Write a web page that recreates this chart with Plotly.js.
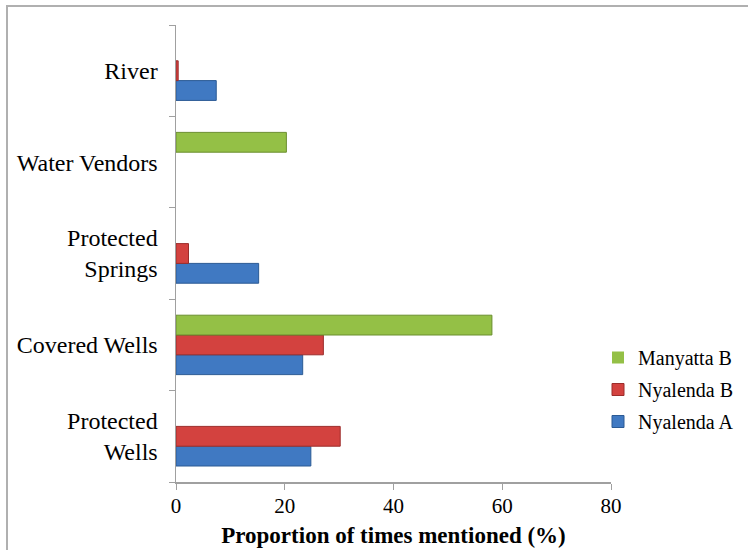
<!DOCTYPE html>
<html>
<head>
<meta charset="utf-8">
<script src="https://cdn.plot.ly/plotly-3.0.1.min.js"></script>
<style>
  html, body { margin: 0; padding: 0; background: #fff; }
  #wrap { position: relative; width: 748px; height: 550px; }
  #chart { width: 748px; height: 550px; }
  #frame { position: absolute; left: 6px; top: 5px; right: 0; bottom: 0;
           border-left: 2px solid #b0b0b0; border-top: 2px solid #b0b0b0; pointer-events: none; }
</style>
</head>
<body>
<div id="wrap">
  <div id="chart"></div>
  <div id="frame"></div>
</div>
<script>
const categories = ["Protected<br>Wells", "Covered Wells", "Protected<br>Springs", "Water Vendors", "River"];
const nyalendaA = [24.8, 23.3, 15.2, 0, 7.4];
const nyalendaB = [30.2, 27.1, 2.3, 0, 0.4];
const manyattaB = [0, 58.1, 0, 20.3, 0];
const xTicks = [0, 20, 40, 60, 80];

const serif = "Liberation Serif, Times New Roman, serif";

function series(name, vals, fill, edge, rank) {
  return {
    type: "bar", orientation: "h", name: name, legendgroup: name, legendrank: rank,
    y: categories, x: vals,
    marker: { color: fill, line: { color: edge, width: vals.map(v => v > 0 ? 1 : 0) } },
    hoverinfo: "x+name"
  };
}

const data = [
  series("Nyalenda A", nyalendaA, "#4079c2", "#2b5a94", 3),
  series("Nyalenda B", nyalendaB, "#d3423f", "#9c2d2b", 2),
  series("Manyatta B", manyattaB, "#94c046", "#6a8f2e", 1)
];

const layout = {
  width: 748, height: 550,
  margin: { l: 176, r: 137, t: 25, b: 68, autoexpand: false },
  paper_bgcolor: "#ffffff", plot_bgcolor: "#ffffff",
  barmode: "group", bargap: 0.35, bargroupgap: 0,
  font: { family: serif, color: "#000", size: 20 },
  xaxis: {
    range: [0, 80], tickvals: xTicks, ticktext: xTicks.map(String),
    showgrid: false, zeroline: false, automargin: false,
    showline: true, linecolor: "#a0a0a0", linewidth: 1.5,
    ticks: "outside", ticklen: 6, tickcolor: "#a0a0a0",
    tickfont: { family: serif, size: 21, color: "#000" },
    ticklabelstandoff: -2,
    title: { text: "<b>Proportion of times mentioned (%)</b>", font: { family: serif, size: 23, color: "#000" }, standoff: 10 }
  },
  yaxis: {
    type: "category", categoryorder: "array", categoryarray: categories,
    showgrid: false, zeroline: false, automargin: false,
    showline: true, linecolor: "#a0a0a0", linewidth: 1.5,
    ticks: "outside", ticklen: 6, tickcolor: "#a0a0a0", tickson: "boundaries",
    tickfont: { family: serif, size: 24, color: "#000" },
    ticklabelstandoff: 12
  },
  legend: {
    xref: "container", yref: "container",
    x: 598 / 748, xanchor: "left", y: 1 - 338 / 550, yanchor: "top",
    traceorder: "grouped", tracegroupgap: 3,
    font: { family: serif, size: 20, color: "#000" },
    bgcolor: "rgba(0,0,0,0)", itemwidth: 30
  },
  showlegend: true
};

Plotly.newPlot("chart", data, layout, { displayModeBar: false, staticPlot: true });
</script>
</body>
</html>
